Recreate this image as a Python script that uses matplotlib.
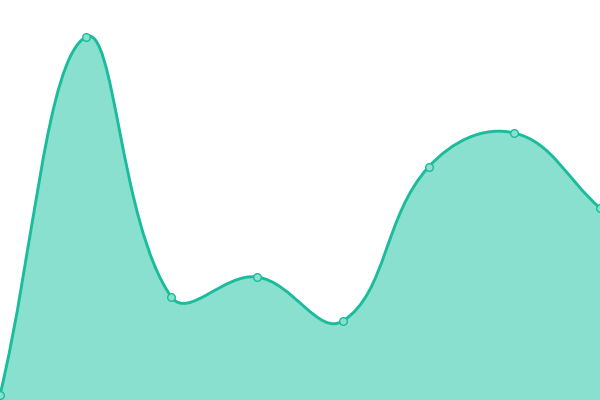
"""Smooth area chart with point markers."""

import numpy as np
import matplotlib
matplotlib.use('Agg')
import matplotlib.pyplot as plt
from matplotlib.path import Path
from matplotlib.patches import PathPatch

# data
x_index = [0, 1, 2, 3, 4, 5, 6, 7]
values = [5, 363, 103, 123, 79, 233, 267, 192]

line_color = '#1abc9c'
fill_color = '#8ae0cf'

W, H = 600, 400
x_max, y_max = 7, 400
tension = 0.4


def bezier_controls(xs, ys):
    """Bezier control points in the style of a tension spline (pixel space)."""
    sx_ = W / x_max
    sy_ = H / y_max
    p = np.column_stack([np.asarray(xs, float) * sx_, np.asarray(ys, float) * sy_])
    n = len(p)
    prev_c, next_c = [], []
    for i in range(n):
        a = p[max(i - 1, 0)]
        b = p[i]
        c = p[min(i + 1, n - 1)]
        d01 = np.hypot(*(b - a))
        d12 = np.hypot(*(c - b))
        tot = d01 + d12
        s01 = d01 / tot if tot else 0
        s12 = d12 / tot if tot else 0
        fa = tension * s01
        fb = tension * s12
        cp_prev = b - fa * (c - a)
        cp_next = b + fb * (c - a)
        cp_prev = np.clip(cp_prev, [0, 0], [W, H])
        cp_next = np.clip(cp_next, [0, 0], [W, H])
        prev_c.append(cp_prev / [sx_, sy_])
        next_c.append(cp_next / [sx_, sy_])
    return prev_c, next_c


prev_c, next_c = bezier_controls(x_index, values)
verts = [(x_index[0], values[0])]
codes = [Path.MOVETO]
for i in range(1, len(x_index)):
    verts += [tuple(next_c[i - 1]), tuple(prev_c[i]), (x_index[i], values[i])]
    codes += [Path.CURVE4] * 3

line_path = Path(verts, codes)
fill_path = Path(verts + [(x_index[-1], 0), (x_index[0], 0), verts[0]],
                 codes + [Path.LINETO, Path.LINETO, Path.CLOSEPOLY])

fig = plt.figure(figsize=(6, 4), dpi=100)
ax = fig.add_axes([0, 0, 1, 1])
ax.add_patch(PathPatch(fill_path, facecolor=fill_color, edgecolor='none'))
ax.add_patch(PathPatch(line_path, facecolor='none', edgecolor=line_color,
                       linewidth=2.1, capstyle='butt', joinstyle='round'))
ax.plot(x_index, values, 'o', markersize=5.5, markerfacecolor=fill_color,
        markeredgecolor=line_color, markeredgewidth=1)
ax.set_xlim(0, x_max)
ax.set_ylim(0, y_max)
ax.axis('off')

plt.savefig('out.png', dpi=100)
plt.close()
